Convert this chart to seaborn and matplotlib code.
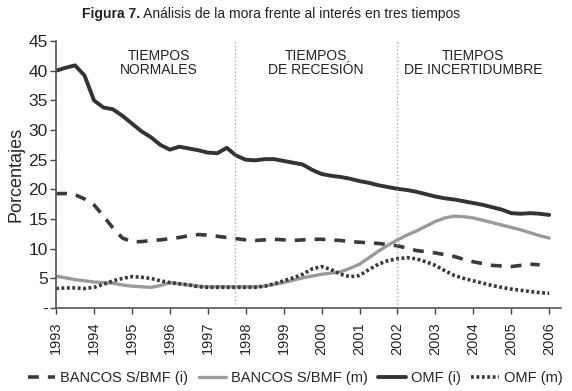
import numpy as np
import pandas as pd
import seaborn as sns
import matplotlib.pyplot as plt

# quarterly points, 1993 - 2006
years = np.arange(1993, 2006.01, 0.25)
year_ticks = list(range(1993, 2007))

omf_i = [40.0, 40.5, 40.9, 39.2, 35.0, 33.8, 33.5, 32.4, 31.1, 29.8, 28.8, 27.5,
         26.7, 27.2, 26.9, 26.6, 26.2, 26.1, 27.0, 25.7, 25.0, 24.9, 25.1, 25.1,
         24.8, 24.5, 24.2, 23.3, 22.6, 22.3, 22.1, 21.8, 21.4, 21.1, 20.7, 20.4,
         20.1, 19.9, 19.6, 19.2, 18.8, 18.5, 18.3, 18.0, 17.7, 17.4, 17.0, 16.6,
         16.0, 15.9, 16.0, 15.9, 15.7]
bancos_i = [19.3, 19.3, 19.1, 18.4, 17.4, 15.5, 13.5, 11.8, 11.2, 11.2, 11.4, 11.5,
            11.7, 11.9, 12.2, 12.4, 12.3, 12.1, 11.9, 11.7, 11.5, 11.4, 11.5, 11.6,
            11.5, 11.4, 11.5, 11.6, 11.6, 11.5, 11.4, 11.2, 11.1, 11.0, 10.9, 10.7,
            10.5, 10.1, 9.7, 9.5, 9.3, 9.0, 8.7, 8.2, 7.8, 7.5, 7.2, 7.1,
            7.0, 7.2, 7.4, 7.3, np.nan]
bancos_m = [5.4, 5.1, 4.8, 4.6, 4.4, 4.3, 4.2, 3.9, 3.7, 3.6, 3.5, 3.8,
            4.3, 4.1, 3.9, 3.7, 3.6, 3.6, 3.6, 3.6, 3.6, 3.6, 3.7, 4.0,
            4.3, 4.7, 5.1, 5.4, 5.7, 5.9, 6.1, 6.7, 7.4, 8.5, 9.6, 10.6,
            11.5, 12.3, 13.0, 13.8, 14.6, 15.2, 15.5, 15.4, 15.2, 14.8, 14.4, 14.0,
            13.6, 13.2, 12.7, 12.2, 11.8]
omf_m = [3.3, 3.4, 3.4, 3.3, 3.5, 4.0, 4.6, 5.0, 5.3, 5.2, 5.0, 4.6,
         4.3, 4.1, 3.9, 3.6, 3.5, 3.5, 3.5, 3.5, 3.5, 3.5, 3.7, 4.1,
         4.6, 5.1, 5.7, 6.6, 7.0, 6.5, 5.7, 5.3, 5.5, 6.5, 7.4, 8.0,
         8.3, 8.5, 8.3, 7.8, 7.2, 6.3, 5.5, 5.0, 4.6, 4.2, 3.8, 3.5,
         3.2, 3.0, 2.8, 2.6, 2.5]

period_breaks = [1997.72, 2002.0]
period_labels = ["TIEMPOS\nNORMALES", "TIEMPOS\nDE RECESIÓN", "TIEMPOS\nDE INCERTIDUMBRE"]
period_label_x = [1995.7, 1999.85, 2004.0]

df = pd.DataFrame({"Año": years, "BANCOS S/BMF (i)": bancos_i,
                   "BANCOS S/BMF (m)": bancos_m, "OMF (i)": omf_i, "OMF (m)": omf_m})

sns.set_style("white")
plt.rcParams["font.family"] = ["Liberation Sans", "DejaVu Sans"]

fig = plt.figure(figsize=(5.72, 3.91), dpi=100)
ax = fig.add_axes([0.098, 0.212, 0.882, 0.683])

styles = {
    "BANCOS S/BMF (i)": dict(color="#3a3a3a", lw=2.6, dashes=(3, 2.5)),
    "BANCOS S/BMF (m)": dict(color="#9a9a9a", lw=2.4),
    "OMF (i)": dict(color="#333333", lw=2.8),
    "OMF (m)": dict(color="#3a3a3a", lw=2.6, dashes=(0.8, 0.7)),
}
for name, st in styles.items():
    sns.lineplot(data=df, x="Año", y=name, ax=ax, label=name, **st)

for xb in period_breaks:
    ax.axvline(xb, color="#aaaaaa", lw=1, ls=":", ymax=1.0)
for lx, txt in zip(period_label_x, period_labels):
    ax.text(lx, 43.6, txt, ha="center", va="top", fontsize=10,
            color="#222222", linespacing=0.95)

ax.set_xlim(1993, 2006.3)
ax.set_ylim(0, 45)
ax.set_xticks(year_ticks)
ax.set_xticklabels([str(y) for y in year_ticks], rotation=90, fontsize=10.5)
ax.set_yticks(range(0, 46, 5))
ax.set_yticklabels(["-"] + [str(v) for v in range(5, 46, 5)], fontsize=12.5)
ax.tick_params(axis="both", length=4, width=1, color="#444444", direction="out",
               bottom=True, left=True)
ax.tick_params(axis="x", pad=6)
ax.tick_params(axis="y", pad=2)
ax.set_xlabel("")
ax.set_ylabel("Porcentajes", fontsize=13, labelpad=3)
sns.despine(ax=ax)
for s in ["left", "bottom"]:
    ax.spines[s].set_color("#555555")
    ax.spines[s].set_linewidth(1.2)

ax.legend(loc="center", bbox_to_anchor=(0.474, -0.262), ncol=4, frameon=False,
          fontsize=10.5, handlelength=1.9, handletextpad=0.35, columnspacing=0.7)

t1 = fig.text(0.143, 0.965, "Figura 7.", ha="left", va="center", fontsize=10,
              fontweight="bold", color="#222222")
fig.canvas.draw()
ax.annotate(" Análisis de la mora frente al interés en tres tiempos",
            xy=(1, 0.5), xycoords=t1, va="center", ha="left", fontsize=10,
            color="#222222")

plt.savefig("out.png", dpi=100)
